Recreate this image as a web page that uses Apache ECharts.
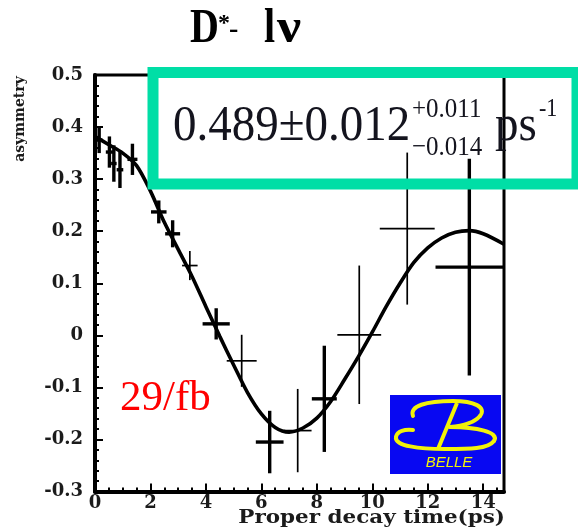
<!DOCTYPE html>
<html>
<head>
<meta charset="utf-8">
<script src="https://cdn.jsdelivr.net/npm/echarts@6/dist/echarts.min.js"></script>
<style>
  html, body { margin: 0; padding: 0; background: #fff; }
  #chart { width: 578px; height: 527px; }
</style>
</head>
<body>
<div id="chart"></div>
<script>
// Measured time-dependent asymmetry (proper decay time in ps)
const binTime    = [0.15, 0.52, 0.68, 0.90, 1.35, 2.30, 2.80, 3.42, 4.37, 5.29, 6.30, 7.31, 8.27, 9.53, 11.26, 13.50];
const binAsym    = [0.375, 0.352, 0.330, 0.318, 0.338, 0.237, 0.195, 0.134, 0.022, -0.049, -0.205, -0.183, -0.122, 0.001, 0.205, 0.131];
const binTimeErr = [0.12, 0.13, 0.10, 0.12, 0.18, 0.28, 0.27, 0.28, 0.49, 0.54, 0.50, 0.50, 0.45, 0.79, 0.99, 1.22];
const binAsymErr = [0.025, 0.030, 0.035, 0.035, 0.030, 0.022, 0.026, 0.028, 0.030, 0.050, 0.060, 0.080, 0.102, 0.133, 0.146, 0.208];

// Fitted oscillation curve
const fitTime = [0, 0.5, 1.0, 1.5, 2.0, 2.5, 3.0, 3.5, 4.0, 4.5, 5.0, 5.5, 6.0, 6.5, 7.0, 7.5, 8.0, 8.5, 9.0, 9.5, 10.0, 10.5, 11.0, 11.5, 12.0, 12.5, 13.0, 13.5, 14.0, 14.75];
const fitAsym = [0.382, 0.366, 0.350, 0.326, 0.277, 0.217, 0.165, 0.113, 0.055, -0.002, -0.057, -0.110, -0.151, -0.177, -0.186, -0.178, -0.159, -0.127, -0.085, -0.041, 0.006, 0.055, 0.100, 0.140, 0.168, 0.187, 0.198, 0.201, 0.195, 0.175];

const yTickLabels = ['-0.3', '-0.2', '-0.1', '0', '0.1', '0.2', '0.3', '0.4', '0.5'];
const xTickLabels = ['0', '2', '4', '6', '8', '10', '12', '14'];

const titleText = { main: 'D', star: '*', dash: '-', tail: 'l', nu: 'ν' };
const fitResult = { value: '0.489±0.012', up: '+0.011', down: '−0.014', unit: 'ps', unitExp: '-1' };
const lumiText = '29/fb';
const xTitle = 'Proper decay time(ps)';
const yTitle = 'asymmetry';
const logoText = 'BELLE';

const errData = binTime.map((t, i) => [t, binAsym[i], binTimeErr[i], binAsymErr[i]]);
const fitData = fitTime.map((t, i) => [t, fitAsym[i]]);
const thinBars = new Set([7, 9, 11, 13, 14]);

const chart = echarts.init(document.getElementById('chart'), null, { renderer: 'canvas' });

const tickFont = { fontFamily: 'DejaVu Serif', fontWeight: 'bold', fontSize: 18, color: '#1b1b1b' };
const serif = '"Liberation Serif"';
const teal = '#00DEA6';
const ink = '#14141e';
const yellow = '#f2f20a';

function txt(x, y, text, font, fill, align) {
  return { type: 'text', x: x, y: y, style: { text: text, font: font, fill: fill, textAlign: align || 'left', verticalAlign: 'middle' } };
}

// stylised "B" of the experiment logo, as cubic segments
const logoCurves = [
  [413, 416, 409, 406, 426, 401, 453, 401],
  [453, 401, 474, 401, 487, 407, 480, 416],
  [480, 416, 474, 423, 462, 426, 450, 427],
  [450, 427, 476, 427, 500, 432, 494, 441],
  [494, 441, 488, 449, 470, 449, 445, 449],
  [445, 449, 420, 449, 394, 446, 396, 437],
  [396, 437, 397, 431, 405, 429, 413, 430]
].map(s => ({
  type: 'bezierCurve',
  shape: { x1: s[0], y1: s[1], cpx1: s[2], cpy1: s[3], cpx2: s[4], cpy2: s[5], x2: s[6], y2: s[7] },
  style: { fill: null, stroke: yellow, lineWidth: 4, lineCap: 'round' }
}));

chart.setOption({
  animation: false,
  backgroundColor: '#ffffff',
  grid: {
    left: 95, right: 74, top: 75, bottom: 35.5,
    show: true, borderColor: '#000', borderWidth: 3, backgroundColor: 'transparent'
  },
  xAxis: {
    type: 'value', min: 0, max: 14.75, interval: 2,
    axisLine: { show: true, onZero: false, lineStyle: { color: '#000', width: 4 } },
    axisTick: { show: true, inside: true, length: 8, lineStyle: { color: '#000', width: 2 } },
    minorTick: { show: true, splitNumber: 4, length: 4, lineStyle: { color: '#000', width: 2 } },
    splitLine: { show: false },
    axisLabel: Object.assign({
      margin: 3, showMaxLabel: false,
      formatter: v => { const k = Math.round(v / 2); return Math.abs(v - 2 * k) < 1e-6 && xTickLabels[k] !== undefined ? xTickLabels[k] : ''; }
    }, tickFont)
  },
  yAxis: {
    type: 'value', min: -0.3, max: 0.5, interval: 0.1,
    axisLine: { show: true, onZero: false, lineStyle: { color: '#000', width: 4 } },
    axisTick: { show: true, inside: true, length: 8, lineStyle: { color: '#000', width: 2 } },
    minorTick: { show: true, splitNumber: 5, length: 4, lineStyle: { color: '#000', width: 2 } },
    splitLine: { show: false },
    axisLabel: Object.assign({
      margin: 12,
      formatter: v => { const k = Math.round((v + 0.3) * 10); return yTickLabels[k] !== undefined ? yTickLabels[k] : ''; }
    }, tickFont)
  },
  series: [
    {
      type: 'line', data: fitData, smooth: 0.3, showSymbol: false, symbol: 'none',
      lineStyle: { color: '#000', width: 3.6 }, z: 2
    },
    {
      type: 'custom', data: errData, z: 3,
      renderItem: (params, api) => {
        const t = api.value(0), v = api.value(1), te = api.value(2), ve = api.value(3);
        const c = api.coord([t, v]);
        const l = api.coord([t - te, v]);
        const r = api.coord([t + te, v]);
        const top = api.coord([t, v + ve]);
        const bot = api.coord([t, v - ve]);
        const w = thinBars.has(params.dataIndex) ? 1.7 : 3.4;
        return {
          type: 'group',
          children: [
            { type: 'line', shape: { x1: l[0], y1: c[1], x2: r[0], y2: c[1] }, style: { stroke: '#000', lineWidth: w } },
            { type: 'line', shape: { x1: c[0], y1: top[1], x2: c[0], y2: bot[1] }, style: { stroke: '#000', lineWidth: w } }
          ]
        };
      }
    }
  ],
  graphic: [
    // title
    {
      type: 'group', x: 0, y: 30, scaleY: 1.2, z: 100,
      children: [
        txt(190, 0, titleText.main, 'bold 40px ' + serif, '#000'),
        txt(264, 0, titleText.tail, 'bold 40px ' + serif, '#000')
      ]
    },
    {
      type: 'group', x: 277, y: 30, scaleX: 1.35, scaleY: 1.2, z: 100,
      children: [txt(0, 0, titleText.nu, 'bold 40px ' + serif, '#000')]
    },
    Object.assign(txt(218, 24, titleText.star, 'bold 24px ' + serif, '#000'), { z: 100 }),
    Object.assign(txt(229, 30, titleText.dash, 'bold 28px ' + serif, '#000'), { z: 100 }),
    // fit result frame
    {
      type: 'rect', z: 100,
      shape: { x: 153, y: 72.5, width: 424, height: 111.5 },
      style: { fill: 'none', stroke: teal, lineWidth: 11 }
    },
    {
      type: 'group', x: 0, y: 126.5, scaleY: 1.1, z: 101,
      children: [
        txt(173, 0, fitResult.value, '47px ' + serif, ink),
        txt(412, -15.5, fitResult.up, '25px ' + serif, ink),
        txt(412, 19, fitResult.down, '25px ' + serif, ink),
        txt(495, 0, fitResult.unit, '47px ' + serif, ink),
        txt(539, -15, fitResult.unitExp, '22px ' + serif, ink)
      ]
    },
    // integrated luminosity
    Object.assign(txt(120, 398.5, lumiText, '43px ' + serif, '#ff0000'), { z: 100 }),
    // axis titles
    {
      type: 'text', x: 20, y: 119, rotation: Math.PI / 2, z: 100,
      style: { text: yTitle, font: 'bold 14px "DejaVu Serif"', fill: '#1b1b1b', textAlign: 'center', verticalAlign: 'middle' }
    },
    {
      type: 'group', x: 505, y: 518, scaleX: 1.13, z: 100,
      children: [txt(0, 0, xTitle, 'bold 19px "DejaVu Serif"', '#1b1b1b', 'right')]
    },
    // experiment logo
    {
      type: 'group', z: 100,
      children: [
        { type: 'rect', shape: { x: 390, y: 395, width: 111, height: 79 }, style: { fill: '#0808f2' } },
        ...logoCurves,
        { type: 'line', shape: { x1: 457, y1: 403, x2: 438, y2: 449 }, style: { stroke: yellow, lineWidth: 4 } },
        txt(449, 463, logoText, 'italic 15px "Liberation Sans"', yellow, 'center')
      ]
    }
  ]
});
</script>
</body>
</html>
